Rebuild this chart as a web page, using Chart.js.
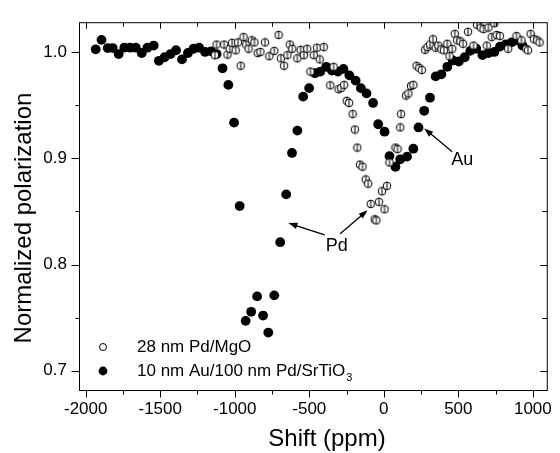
<!DOCTYPE html>
<html lang="en">
<head>
<meta charset="UTF-8">
<title>Normalized polarization vs shift</title>
<script src="https://cdn.jsdelivr.net/npm/chart.js"></script>
<style>
  body { margin: 0; background: #fff; }
  #box { width: 560px; height: 453px; }
</style>
</head>
<body>
<div id="box"><canvas id="grafico" width="560" height="453"></canvas></div>
<script>
  // 28 nm Pd/MgO (open circles)
  const shiftPd = [-1133, -1122, -1071, -1049, -1034, -1018, -994, -978, -960, -941, -923, -907, -885, -868,
    -846, -828, -797, -768, -735, -706, -691, -669, -647, -631, -614, -580, -558, -536, -514, -492, -470,
    -448, -430, -403, -359, -337, -304, -286, -266, -249, -233, -209, -194, -178, -160, -143, -121, -105,
    -88, -61, -50, -32, -12, 5, 21, 38, 78, 92, 110, 116, 149, 165, 182, 198, 220, 238, 255, 277, 293,
    310, 330, 348, 366, 386, 403, 426, 441, 459, 476, 492, 514, 532, 565, 602, 625, 651, 669, 691, 702,
    724, 742, 757, 779, 834, 890, 923, 956, 967, 985, 1007, 1029, 1045];
  const polPd = [0.997, 1.007, 1.007, 0.9975, 1.003, 1.0086, 1.0016, 1.009, 0.987, 1.014, 1.007, 1.003, 1.011, 1.009,
    0.999, 1.000, 1.009, 0.996, 1.001, 1.016, 0.994, 0.987, 0.997, 1.007, 1.003, 0.994, 1.002, 0.997, 1.003, 0.9815, 0.997,
    1.004, 0.993, 1.0046, 0.9686, 0.986, 0.965, 0.966, 0.969, 0.954, 0.952, 0.9416, 0.927, 0.910, 0.894, 0.892, 0.880, 0.876,
    0.857, 0.8425, 0.8415, 0.859, 0.869, 0.852, 0.874, 0.896, 0.910, 0.9086, 0.929, 0.9416, 0.959, 0.961, 0.968, 0.969, 0.987, 0.985, 0.983, 1.002, 1.0046,
    1.007, 1.012, 1.004, 1.006, 1.0025, 1.0016, 1.0077, 0.996, 1.003, 1.017, 1.011, 1.010, 1.0077, 1.019, 1.006, 1.0256, 1.023, 1.0215, 1.006, 1.023,
    1.014, 1.027, 1.016, 1.015, 1.003, 1.015, 1.011, 1.003, 1.0016, 1.017, 1.012, 1.011, 1.009];

  // 10 nm Au/100 nm Pd/SrTiO3 (filled circles)
  const shiftAu = [-1933, -1894, -1852, -1819, -1779, -1741, -1703, -1664, -1624, -1586, -1544, -1509, -1471,
    -1431, -1394, -1354, -1314, -1277, -1239, -1199, -1159, -1122, -1082, -1043, -1005, -967, -927, -890,
    -850, -810, -775, -735, -695, -655, -616, -580, -541, -501, -461, -426, -386, -348, -308, -271, -231,
    -189, -154, -116, -72, -38, 5, 38, 78, 110, 156, 198, 233, 271, 310, 348, 386, 426, 463, 503, 543,
    580, 620, 662, 702, 742, 779, 817, 857, 894, 930];
  const polAu = [1.0025, 1.0114, 1.0037, 1.0037, 0.998, 1.004, 1.004, 1.004, 0.999, 1.004, 1.006, 0.9917, 0.995,
    0.998, 1.0016, 0.993, 0.999, 1.003, 1.004, 1.000, 1.0006, 0.998, 0.9846, 0.969, 0.9335, 0.855, 0.747, 0.7555,
    0.770, 0.752, 0.736, 0.771, 0.821, 0.866, 0.905, 0.926, 0.958, 0.966, 0.980, 0.9815, 0.986, 0.9825, 0.9815, 0.984, 0.978,
    0.973, 0.966, 0.961, 0.952, 0.932, 0.925, 0.902, 0.892, 0.899, 0.9015, 0.909, 0.929, 0.9446, 0.957, 0.977, 0.979, 0.986, 0.992, 0.991, 0.995,
    1.001, 1.003, 0.997, 0.999, 1.000, 1.005, 1.007, 1.009, 1.011, 1.006];

  const xTicks = [-2000, -1500, -1000, -500, 0, 500, 1000];
  const yTicks = [0.7, 0.8, 0.9, 1.0];
  const seriesNames = ['28 nm Pd/MgO', '10 nm Au/100 nm Pd/SrTiO'];

  // arrows and labels, in data units
  const notes = [
    { text: 'Pd', x: -315, y: 0.817 },
    { text: 'Au', x: 527, y: 0.8985 }
  ];
  const arrows = [
    { from: [-397, 0.828], to: [-640, 0.839] },
    { from: [-293, 0.829], to: [-109, 0.851] },
    { from: [459, 0.906], to: [271, 0.928] }
  ];

  const FONT = '"Liberation Sans", Arial, sans-serif';

  // open circle with the small vertical bar through it
  function openMarker() {
    const c = document.createElement('canvas');
    c.width = 10; c.height = 10;
    const g = c.getContext('2d');
    g.fillStyle = '#fff';
    g.strokeStyle = '#000';
    g.lineWidth = 1;
    g.beginPath();
    g.arc(5, 5, 3.8, 0, Math.PI * 2);
    g.fill();
    g.stroke();
    g.beginPath();
    g.moveTo(5, 0.8);
    g.lineTo(5, 9.2);
    g.stroke();
    return c;
  }

  function isMajor(list, v) {
    return list.some(t => Math.abs(t - v) < 1e-6);
  }

  function arrow(ctx, x1, y1, x2, y2) {
    const ang = Math.atan2(y2 - y1, x2 - x1);
    const len = 9, half = 3.2;
    ctx.beginPath();
    ctx.moveTo(x1, y1);
    ctx.lineTo(x2 - Math.cos(ang) * len * 0.8, y2 - Math.sin(ang) * len * 0.8);
    ctx.stroke();
    ctx.beginPath();
    ctx.moveTo(x2, y2);
    ctx.lineTo(x2 - Math.cos(ang) * len - Math.sin(ang) * half, y2 - Math.sin(ang) * len + Math.cos(ang) * half);
    ctx.lineTo(x2 - Math.cos(ang) * len + Math.sin(ang) * half, y2 - Math.sin(ang) * len - Math.cos(ang) * half);
    ctx.closePath();
    ctx.fill();
  }

  // frame, tick marks, legend, annotations and axis titles
  const extras = {
    id: 'extras',
    afterDraw(chart) {
      const { ctx, chartArea: a, scales: { x, y } } = chart;
      ctx.save();
      ctx.strokeStyle = '#000';
      ctx.fillStyle = '#000';
      ctx.lineWidth = 1;
      const L = a.left + 0.5, R = a.right - 0.5, T = a.top + 0.5, B = a.bottom - 0.5;
      ctx.strokeRect(L, T, R - L, B - T);

      ctx.beginPath();
      x.ticks.forEach(t => {
        const px = Math.round(x.getPixelForValue(t.value)) + 0.5;
        const big = isMajor(xTicks, t.value);
        ctx.moveTo(px, B); ctx.lineTo(px, B + (big ? 7 : 4));
        ctx.moveTo(px, T); ctx.lineTo(px, T + (big ? 6 : 4));
      });
      y.ticks.forEach(t => {
        const py = Math.round(y.getPixelForValue(t.value)) + 0.5;
        const big = isMajor(yTicks, t.value);
        ctx.moveTo(L, py); ctx.lineTo(L - (big ? 8 : 4), py);
        ctx.moveTo(R, py); ctx.lineTo(R - (big ? 7 : 5), py);
      });
      ctx.stroke();

      // legend
      const lx = a.left + 24, tx = a.left + 58;
      const r1 = a.bottom - 44, r2 = a.bottom - 20;
      ctx.beginPath();
      ctx.arc(lx, r1, 3.5, 0, Math.PI * 2);
      ctx.stroke();
      ctx.beginPath();
      ctx.arc(lx, r2, 4.4, 0, Math.PI * 2);
      ctx.fill();
      ctx.font = '17px ' + FONT;
      ctx.textBaseline = 'middle';
      ctx.textAlign = 'left';
      ctx.fillText(seriesNames[0], tx, r1);
      ctx.fillText(seriesNames[1], tx, r2);
      const w = ctx.measureText(seriesNames[1]).width;
      ctx.font = '11px ' + FONT;
      ctx.fillText('3', tx + w + 1, r2 + 7);

      // arrows + labels
      ctx.lineWidth = 1.3;
      arrows.forEach(p => {
        arrow(ctx, x.getPixelForValue(p.from[0]), y.getPixelForValue(p.from[1]),
          x.getPixelForValue(p.to[0]), y.getPixelForValue(p.to[1]));
      });
      ctx.font = '18px ' + FONT;
      ctx.textAlign = 'center';
      notes.forEach(n => ctx.fillText(n.text, x.getPixelForValue(n.x), y.getPixelForValue(n.y)));

      // axis titles
      ctx.font = '24px ' + FONT;
      ctx.textBaseline = 'alphabetic';
      ctx.fillText('Shift (ppm)', 327, 446);
      ctx.translate(31, 218);
      ctx.rotate(-Math.PI / 2);
      ctx.fillText('Normalized polarization', 0, 0);
      ctx.restore();
    }
  };

  const dados = {
    datasets: [
      {
        label: seriesNames[0],
        data: shiftPd.map((v, i) => ({ x: v, y: polPd[i] })),
        pointStyle: openMarker(),
        pointRadius: 4,
        showLine: false
      },
      {
        label: seriesNames[1] + '3',
        data: shiftAu.map((v, i) => ({ x: v, y: polAu[i] })),
        pointStyle: 'circle',
        pointRadius: 4.9,
        pointBorderWidth: 0,
        pointBackgroundColor: '#000',
        showLine: false
      }
    ]
  };

  const config = {
    type: 'scatter',
    data: dados,
    options: {
      responsive: false,
      animation: false,
      devicePixelRatio: 1,
      layout: { padding: { left: 0, right: 7, top: 15, bottom: 0 } },
      plugins: { legend: { display: false }, tooltip: { enabled: false } },
      scales: {
        x: {
          type: 'linear',
          min: -2045,
          max: 1100,
          grid: { display: false, drawTicks: false },
          border: { display: false },
          afterFit: s => { s.height = 62; },
          ticks: {
            stepSize: 250,
            includeBounds: false,
            autoSkip: false,
            maxRotation: 0,
            padding: 8,
            color: '#000',
            font: { family: FONT, size: 17 },
            callback: v => isMajor(xTicks, v) ? String(v) : ''
          }
        },
        y: {
          type: 'linear',
          min: 0.681,
          max: 1.028,
          grid: { display: false, drawTicks: false },
          border: { display: false },
          afterFit: s => { s.width = 79; },
          ticks: {
            stepSize: 0.05,
            includeBounds: false,
            autoSkip: false,
            padding: 12,
            color: '#000',
            font: { family: FONT, size: 17 },
            callback: v => isMajor(yTicks, v) ? v.toFixed(1) : ''
          }
        }
      }
    },
    plugins: [extras]
  };

  new Chart(document.getElementById('grafico'), config);
</script>
</body>
</html>
